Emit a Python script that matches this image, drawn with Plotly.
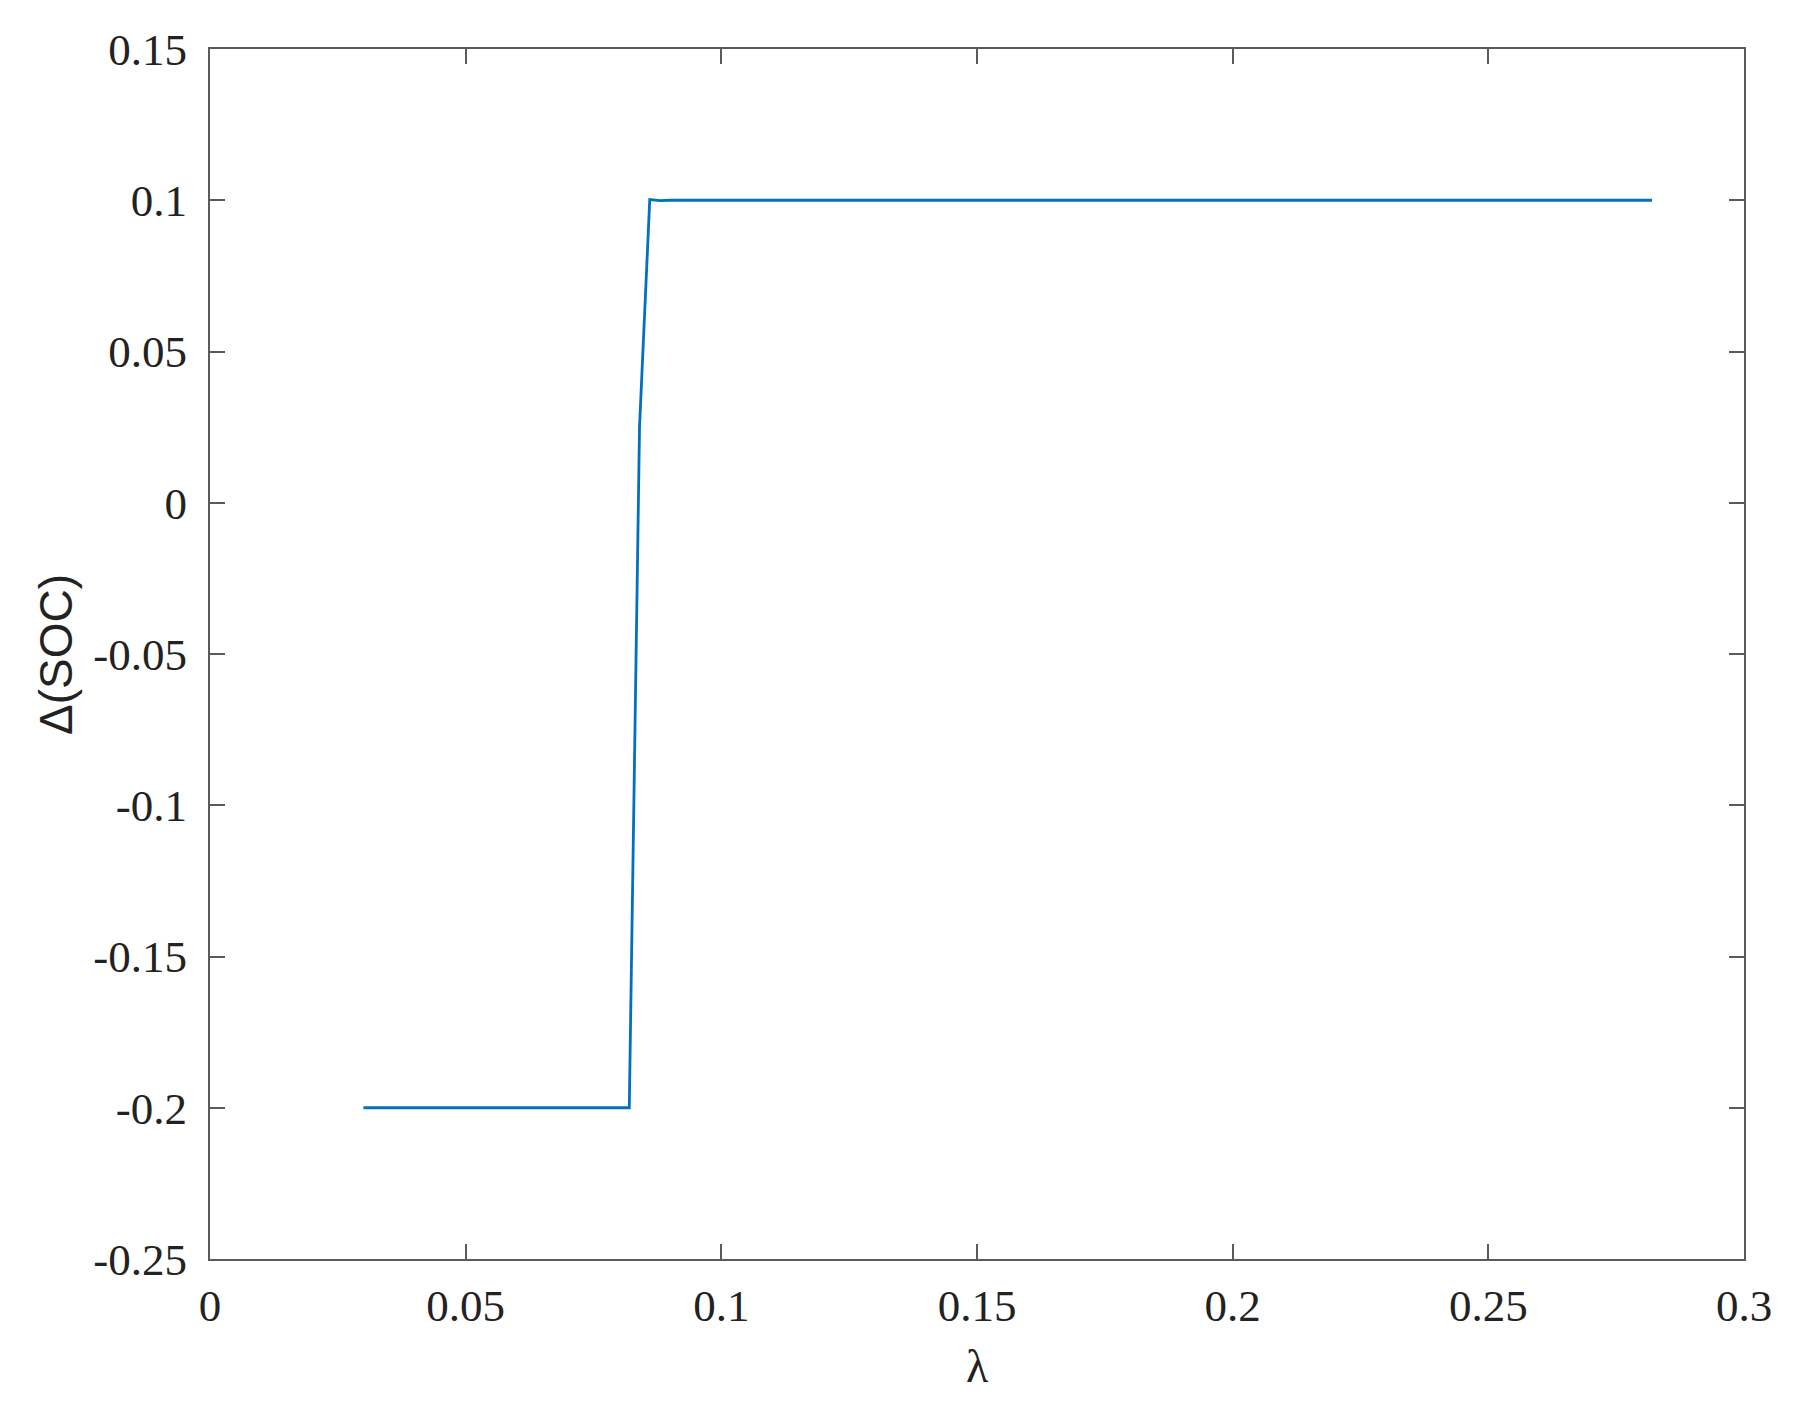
import plotly.graph_objects as go

# lambda values and corresponding SOC change
lam = [0.030, 0.040, 0.050, 0.060, 0.070, 0.080, 0.082, 0.084, 0.086, 0.088,
       0.090, 0.100, 0.108, 0.110, 0.112, 0.130, 0.150, 0.170, 0.190, 0.192,
       0.194, 0.210, 0.212, 0.214, 0.230, 0.232, 0.234, 0.250, 0.270, 0.272,
       0.274, 0.282]
dsoc = [-0.2, -0.2, -0.2, -0.2, -0.2, -0.2, -0.2, 0.025, 0.1002, 0.0999,
        0.1, 0.1, 0.1, 0.0999, 0.1, 0.1, 0.1, 0.1, 0.1, 0.0999,
        0.1, 0.1, 0.0999, 0.1, 0.1, 0.0999, 0.1, 0.1, 0.1, 0.0999,
        0.1, 0.1]

x_ticks = [0, 0.05, 0.1, 0.15, 0.2, 0.25, 0.3]
x_labels = ["0", "0.05", "0.1", "0.15", "0.2", "0.25", "0.3"]
y_ticks = [-0.25, -0.2, -0.15, -0.1, -0.05, 0, 0.05, 0.1, 0.15]
y_labels = ["-0.25", "-0.2", "-0.15", "-0.1", "-0.05", "0", "0.05", "0.1", "0.15"]

W, H = 1796, 1408
OFF = 8  # page body margin shifts the figure
L, T = 210 - OFF, 49 - OFF
pw, ph = 1534, 1210
R, B = W - L - pw, H - T - ph

fig = go.Figure()
fig.add_scatter(x=lam, y=dsoc, mode="lines",
                line=dict(color="#0072BD", width=2.8), showlegend=False)

axis_common = dict(
    showgrid=False, zeroline=False, showline=True, mirror="ticks",
    linecolor="#5a5a5a", linewidth=2, ticks="inside", ticklen=15,
    tickwidth=2, tickcolor="#5a5a5a", automargin=False,
    tickfont=dict(family="Liberation Serif", size=45, color="#222"),
)
fig.update_xaxes(range=[0, 0.3], tickvals=x_ticks, ticktext=x_labels,
                 ticklabelstandoff=6, **axis_common)
fig.update_yaxes(range=[-0.25, 0.15], tickvals=y_ticks, ticktext=y_labels,
                 ticklabelstandoff=12, **axis_common)

fig.update_layout(
    width=W, height=H,
    margin=dict(l=L, r=R, t=T, b=B),
    plot_bgcolor="white", paper_bgcolor="white",
    annotations=[
        dict(text="λ", xref="paper", yref="paper",
             x=0.5, y=-(1366 - OFF - (T + ph)) / ph, xanchor="center", yanchor="middle",
             showarrow=False, font=dict(family="Liberation Serif", size=46, color="#222")),
        dict(text="Δ(SOC)", xref="paper", yref="paper",
             x=(56 - OFF - L) / pw, y=(T + ph - (655 - OFF)) / ph,
             xanchor="center", yanchor="middle",
             textangle=-90, showarrow=False,
             font=dict(family="Liberation Sans", size=46, color="#222")),
    ],
)

fig.write_html("out.html")
